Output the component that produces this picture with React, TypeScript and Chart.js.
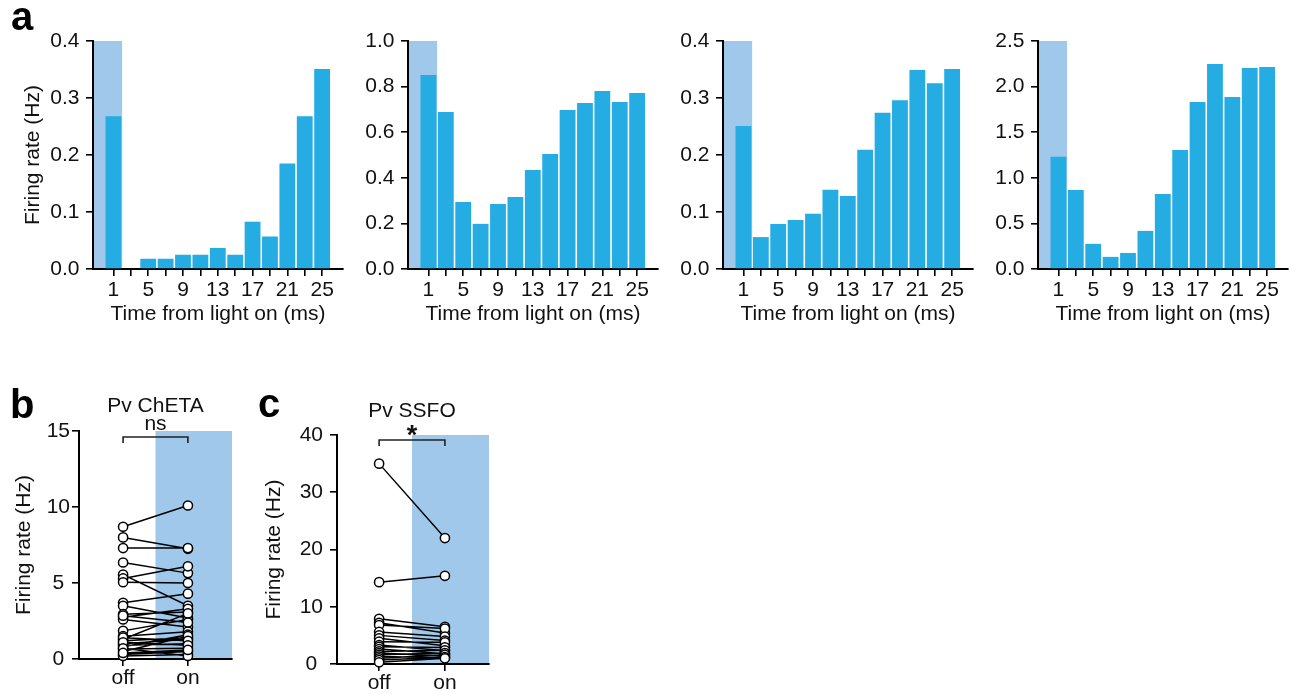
import React, { useEffect, useRef } from 'react';
import { Chart, registerables } from 'chart.js';

Chart.register(...registerables);

const FONT = '"Liberation Sans", Arial, Helvetica, sans-serif';
const TEXT = '#111';
const AXIS = '#000';
const BAR = '#24ACE3';
const LIGHT = '#A0C8EA';

// Histogram bins (2 ms wide, labelled by centre)
const BIN_CENTERS_MS = [1, 3, 5, 7, 9, 11, 13, 15, 17, 19, 21, 23, 25];
const LABELED_BINS_MS = [1, 5, 9, 13, 17, 21, 25];
const LIGHT_END_MS = 2;

// Firing rate per bin (Hz), one array per example cell
const RATE_CELL_1 = [0.268, 0, 0.018, 0.018, 0.025, 0.025, 0.037, 0.025, 0.083, 0.057, 0.185, 0.268, 0.351];
const RATE_CELL_2 = [0.851, 0.689, 0.294, 0.198, 0.285, 0.316, 0.434, 0.504, 0.697, 0.728, 0.781, 0.732, 0.772];
const RATE_CELL_3 = [0.251, 0.056, 0.079, 0.086, 0.097, 0.139, 0.128, 0.209, 0.274, 0.296, 0.349, 0.326, 0.351];
const RATE_CELL_4 = [1.23, 0.866, 0.276, 0.133, 0.176, 0.418, 0.822, 1.305, 1.83, 2.248, 1.886, 2.205, 2.215];

const Y_MAX_CELLS = [0.4, 1.0, 0.4, 2.5];
const Y_STEP_CELLS = [0.1, 0.2, 0.1, 0.5];

// Paired firing rates (Hz), light off vs light on
const CONDITIONS = ['off', 'on'];
const CHETA_OFF = [8.7, 8.0, 7.3, 6.35, 5.55, 5.3, 5.05, 3.7, 3.5, 2.95, 2.75, 2.6, 1.85, 1.5, 1.3, 1.2, 1.0, 0.9, 0.8, 0.65, 0.5, 0.3, 0.2, 1.4, 1.1, 2.85, 0.7, 0.4];
const CHETA_ON = [10.1, 7.25, 7.3, 5.65, 3.5, 6.1, 5.0, 4.3, 2.7, 3.1, 3.3, 2.1, 2.6, 1.8, 3.0, 1.4, 1.3, 1.0, 1.6, 0.7, 1.5, 0.5, 0.3, 1.2, 0.9, 2.4, 0.2, 0.6];
const SSFO_OFF = [35, 14.3, 7.9, 7.2, 6.8, 5.6, 5.0, 4.5, 3.9, 3.3, 3.0, 2.6, 2.2, 1.9, 1.6, 1.3, 1.0, 0.7, 0.3];
const SSFO_ON = [22, 15.4, 6.5, 5.4, 6.2, 4.8, 4.1, 3.2, 3.8, 2.3, 2.9, 1.8, 2.4, 1.4, 1.9, 1.1, 1.6, 1.2, 1.0];

const X_MIN_MS = -1.35;
const X_MAX_MS = 27.4;

Chart.defaults.font.family = FONT;
Chart.defaults.color = TEXT;

const font21 = { size: 21, family: FONT };

// Fills a light-on band behind the data, from `from` to `to` on the x scale
function shadePlugin(from: number | null, to: number | null, color: string) {
  return {
    id: 'lightShade',
    beforeDraw(chart: any) {
      const { ctx, chartArea, scales } = chart;
      const xs = scales.x;
      const ys = scales.y;
      const x0 = from === null ? chartArea.left + 1 : xs.getPixelForValue(from);
      const x1 = to === null ? chartArea.right : xs.getPixelForValue(to);
      const y0 = ys.getPixelForValue(ys.max);
      const y1 = ys.getPixelForValue(0);
      ctx.save();
      ctx.fillStyle = color;
      ctx.fillRect(x0, y0, x1 - x0, y1 - y0);
      ctx.restore();
    },
  };
}

// Group title, significance bracket and its mark
function annotatePlugin(title: string, titleDy: number, mark: string, markFont: string, markDy: number, barDy: number, dropDy: number) {
  return {
    id: 'pairAnnotate',
    afterDraw(chart: any) {
      const { ctx, chartArea, scales } = chart;
      const xa = scales.x.getPixelForValue(0);
      const xb = scales.x.getPixelForValue(1);
      const xm = scales.x.getPixelForValue(0.5);
      const top = chartArea.top;
      ctx.save();
      ctx.fillStyle = TEXT;
      ctx.textAlign = 'center';
      ctx.textBaseline = 'alphabetic';
      ctx.font = `21px ${FONT}`;
      ctx.fillText(title, xm, top + titleDy);
      ctx.font = markFont;
      ctx.fillText(mark, xm, top + markDy);
      ctx.strokeStyle = '#222';
      ctx.lineWidth = 1.6;
      ctx.beginPath();
      ctx.moveTo(xa, top + dropDy);
      ctx.lineTo(xa, top + barDy);
      ctx.lineTo(xb, top + barDy);
      ctx.lineTo(xb, top + dropDy);
      ctx.stroke();
      ctx.restore();
    },
  };
}

const gridTicks = {
  display: true,
  drawOnChartArea: false,
  drawTicks: true,
  tickLength: 7,
  color: AXIS,
  lineWidth: 1.6,
  offset: false,
};
const border = { display: true, color: AXIS, width: 2 };

function histogramConfig(values: number[], yMax: number, yStep: number, yTitle: boolean, padRight: number) {
  return {
    type: 'bar',
    data: {
      datasets: [
        {
          data: BIN_CENTERS_MS.map((x, i) => ({ x, y: values[i] })),
          backgroundColor: BAR,
          borderWidth: 0,
          barPercentage: 0.91,
          categoryPercentage: 1,
        },
      ],
    },
    options: {
      animation: false,
      responsive: false,
      events: [],
      layout: { padding: { left: 0, top: 41, right: padRight, bottom: 0 } },
      plugins: { legend: { display: false }, tooltip: { enabled: false } },
      scales: {
        x: {
          type: 'linear',
          min: X_MIN_MS,
          max: X_MAX_MS,
          offset: false,
          afterBuildTicks: (s: any) => {
            s.ticks = BIN_CENTERS_MS.map((v) => ({ value: v }));
          },
          afterFit: (s: any) => {
            s.height = 71;
          },
          ticks: {
            autoSkip: false,
            maxRotation: 0,
            padding: 2,
            font: font21,
            color: TEXT,
            callback: (v: number) => (LABELED_BINS_MS.includes(v) ? String(v) : ''),
          },
          grid: gridTicks,
          border,
          title: {
            display: true,
            text: 'Time from light on (ms)',
            font: font21,
            color: TEXT,
            padding: { top: 0, bottom: 13 },
          },
        },
        y: {
          min: 0,
          max: yMax,
          afterFit: (s: any) => {
            s.width = 93;
          },
          ticks: {
            stepSize: yStep,
            padding: 6.5,
            font: font21,
            color: TEXT,
            callback: (v: number) => v.toFixed(1),
          },
          grid: gridTicks,
          border,
          title: {
            display: yTitle,
            text: 'Firing rate (Hz)',
            font: font21,
            color: TEXT,
            padding: { top: 20.4, bottom: 0 },
          },
        },
      },
    },
    plugins: [shadePlugin(null, LIGHT_END_MS, LIGHT)],
  };
}

function pairedPoints(off: number[], on: number[]) {
  const pts: { x: number; y: number | null }[] = [];
  off.forEach((v, i) => {
    pts.push({ x: 0, y: v }, { x: 1, y: on[i] }, { x: 0.5, y: null });
  });
  return pts;
}

function pairedConfig(opts: {
  off: number[];
  on: number[];
  yMax: number;
  yStep: number;
  xMin: number;
  xMax: number;
  padTop: number;
  padRight: number;
  yWidth: number;
  xHeight: number;
  yTickPad: number;
  annotate: any;
}) {
  return {
    type: 'line',
    data: {
      datasets: [
        {
          data: pairedPoints(opts.off, opts.on),
          borderColor: '#000',
          borderWidth: 1.5,
          pointRadius: 4.6,
          pointBackgroundColor: '#fff',
          pointBorderColor: '#000',
          pointBorderWidth: 1.5,
          spanGaps: false,
          clip: false,
        },
      ],
    },
    options: {
      animation: false,
      responsive: false,
      events: [],
      layout: { padding: { left: 0, top: opts.padTop, right: opts.padRight, bottom: 0 } },
      plugins: { legend: { display: false }, tooltip: { enabled: false } },
      scales: {
        x: {
          type: 'linear',
          min: opts.xMin,
          max: opts.xMax,
          afterBuildTicks: (s: any) => {
            s.ticks = CONDITIONS.map((_, i) => ({ value: i }));
          },
          afterFit: (s: any) => {
            s.height = opts.xHeight;
          },
          ticks: {
            autoSkip: false,
            maxRotation: 0,
            padding: 0,
            font: font21,
            color: TEXT,
            callback: (v: number) => CONDITIONS[v] ?? '',
          },
          grid: gridTicks,
          border,
        },
        y: {
          min: 0,
          max: opts.yMax,
          afterFit: (s: any) => {
            s.width = opts.yWidth;
          },
          ticks: {
            stepSize: opts.yStep,
            padding: opts.yTickPad,
            crossAlign: 'center',
            font: font21,
            color: TEXT,
          },
          grid: gridTicks,
          border,
          title: {
            display: true,
            text: 'Firing rate (Hz)',
            font: font21,
            color: TEXT,
            padding: { top: 11.4, bottom: 0 },
          },
        },
      },
    },
    plugins: [shadePlugin(0.5, null, LIGHT), opts.annotate],
  };
}

function ChartBox({ left, top, width, height, make }: { left: number; top: number; width: number; height: number; make: () => any }) {
  const ref = useRef<HTMLCanvasElement>(null);
  useEffect(() => {
    const chart = new Chart(ref.current as HTMLCanvasElement, make());
    return () => chart.destroy();
  }, []);
  return (
    <div style={{ position: 'absolute', left, top, width, height }}>
      <canvas ref={ref} width={width} height={height} style={{ width, height, display: 'block' }} />
    </div>
  );
}

function PanelLetter({ text, left, top }: { text: string; left: number; top: number }) {
  return (
    <div
      style={{
        position: 'absolute',
        left,
        top,
        fontFamily: FONT,
        fontWeight: 'bold',
        fontSize: 40,
        lineHeight: '40px',
        color: '#000',
      }}
    >
      {text}
    </div>
  );
}

const CELLS = [RATE_CELL_1, RATE_CELL_2, RATE_CELL_3, RATE_CELL_4];

export default function App() {
  return (
    <div style={{ position: 'fixed', left: 0, top: 0, width: 1289, height: 694, background: '#fff', overflow: 'hidden' }}>
      {CELLS.map((vals, i) => (
        <ChartBox
          key={i}
          left={i * 315}
          top={0}
          width={i === 3 ? 344 : 360}
          height={340}
          make={() => histogramConfig(vals, Y_MAX_CELLS[i], Y_STEP_CELLS[i], i === 0, i === 3 ? 1 : 17)}
        />
      ))}
      <ChartBox
        left={0}
        top={380}
        width={250}
        height={314}
        make={() =>
          pairedConfig({
            off: CHETA_OFF,
            on: CHETA_ON,
            yMax: 15,
            yStep: 5,
            xMin: -0.68,
            xMax: 1.68,
            padTop: 51,
            padRight: 18,
            yWidth: 79,
            xHeight: 35,
            yTickPad: 2,
            annotate: annotatePlugin('Pv ChETA', -19, 'ns', `21px ${FONT}`, -1, 6, 12),
          })
        }
      />
      <ChartBox
        left={250}
        top={380}
        width={260}
        height={314}
        make={() =>
          pairedConfig({
            off: SSFO_OFF,
            on: SSFO_ON,
            yMax: 40,
            yStep: 10,
            xMin: -0.64,
            xMax: 1.67,
            padTop: 55,
            padRight: 21,
            yWidth: 87,
            xHeight: 30,
            yTickPad: 7,
            annotate: annotatePlugin('Pv SSFO', -18, '*', `bold 27px ${FONT}`, 9, 5, 11),
          })
        }
      />
      <PanelLetter text="a" left={11} top={-4} />
      <PanelLetter text="b" left={10} top={384} />
      <PanelLetter text="c" left={258} top={383} />
    </div>
  );
}
